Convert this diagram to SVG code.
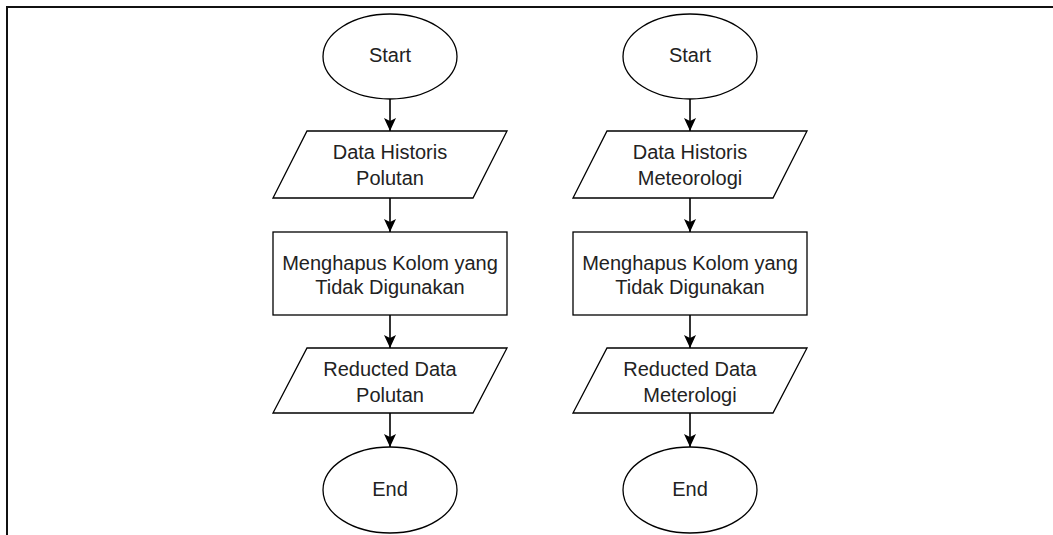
<svg xmlns="http://www.w3.org/2000/svg" width="1053" height="535" viewBox="0 0 1053 535">
<defs>
<style>
.shape{fill:#fff;stroke:#000;stroke-width:1.3}
.lbl{font-family:"Liberation Sans",Arial,sans-serif;font-size:20px;fill:#222;text-anchor:middle}
.conn{stroke:#000;stroke-width:1.6;fill:none}
</style>
<marker id="arr" markerUnits="userSpaceOnUse" markerWidth="14" markerHeight="14" viewBox="0 0 14 14" refX="13" refY="7" orient="auto">
<path d="M0,1 L13,7 L0,13 L3,7 Z" fill="#000"/>
</marker>
</defs>
<rect width="1053" height="535" fill="#fff"/>
<rect x="7" y="7" width="1060" height="540" fill="none" stroke="#111" stroke-width="2"/>
<g id="connectors">
<line class="conn" x1="390" y1="99" x2="390" y2="131" marker-end="url(#arr)"/>
<line class="conn" x1="390" y1="198" x2="390" y2="232" marker-end="url(#arr)"/>
<line class="conn" x1="390" y1="315" x2="390" y2="348" marker-end="url(#arr)"/>
<line class="conn" x1="390" y1="413" x2="390" y2="447" marker-end="url(#arr)"/>
<line class="conn" x1="690" y1="99" x2="690" y2="131" marker-end="url(#arr)"/>
<line class="conn" x1="690" y1="198" x2="690" y2="232" marker-end="url(#arr)"/>
<line class="conn" x1="690" y1="315" x2="690" y2="348" marker-end="url(#arr)"/>
<line class="conn" x1="690" y1="413" x2="690" y2="447" marker-end="url(#arr)"/>
</g>
<g id="start1"><ellipse class="shape" cx="390" cy="56.5" rx="67" ry="42.5"/><text class="lbl" x="390" y="62">Start</text></g>
<g id="data1"><polygon class="shape" points="307,131 507,131 473,198 273,198"/><text class="lbl" x="390" y="159">Data Historis</text><text class="lbl" x="390" y="185">Polutan</text></g>
<g id="proc1"><rect class="shape" x="273" y="232" width="234" height="83"/><text class="lbl" x="390" y="270">Menghapus Kolom yang</text><text class="lbl" x="390" y="294">Tidak Digunakan</text></g>
<g id="out1"><polygon class="shape" points="307,348 507,348 473,413 273,413"/><text class="lbl" x="390" y="376">Reducted Data</text><text class="lbl" x="390" y="402">Polutan</text></g>
<g id="end1"><ellipse class="shape" cx="390" cy="490" rx="67" ry="43"/><text class="lbl" x="390" y="496">End</text></g>
<g id="start2"><ellipse class="shape" cx="690" cy="56.5" rx="67" ry="42.5"/><text class="lbl" x="690" y="62">Start</text></g>
<g id="data2"><polygon class="shape" points="607,131 807,131 773,198 573,198"/><text class="lbl" x="690" y="159">Data Historis</text><text class="lbl" x="690" y="185">Meteorologi</text></g>
<g id="proc2"><rect class="shape" x="573" y="232" width="234" height="83"/><text class="lbl" x="690" y="270">Menghapus Kolom yang</text><text class="lbl" x="690" y="294">Tidak Digunakan</text></g>
<g id="out2"><polygon class="shape" points="607,348 807,348 773,413 573,413"/><text class="lbl" x="690" y="376">Reducted Data</text><text class="lbl" x="690" y="402">Meterologi</text></g>
<g id="end2"><ellipse class="shape" cx="690" cy="490" rx="67" ry="43"/><text class="lbl" x="690" y="496">End</text></g>
</svg>
